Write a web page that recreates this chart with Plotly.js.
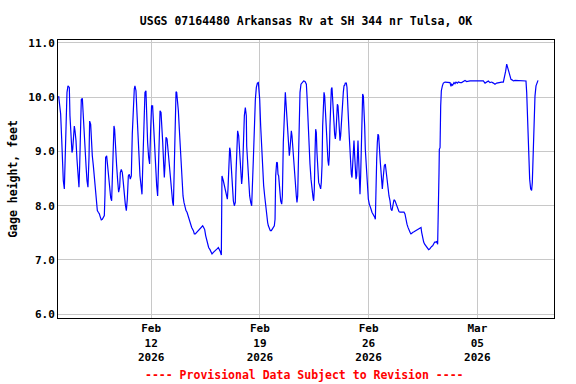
<!DOCTYPE html>
<html>
<head>
<meta charset="utf-8">
<script src="https://cdn.plot.ly/plotly-3.0.1.min.js"></script>
<style>html,body{margin:0;padding:0;background:#fff;}#chart{width:576px;height:384px;}</style>
</head>
<body>
<div id="chart"></div>
<script>
// Start of record and hours elapsed since it for each reading
const startTime = "2026-02-06T00:00:00Z";
const hoursSinceStart = [
1.0,4.1,5.7,6.7,8.2,9.8,11.3,12.4,13.9,15.4,17.5,18.5,20.1,21.6,22.7,23.7,25.2,26.3,27.8,29.3,
30.9,32.4,33.5,34.5,36.0,37.6,38.6,40.2,41.7,43.3,44.8,46.3,47.9,48.9,50.5,51.5,53.0,54.6,56.1,57.7,
59.2,60.8,62.3,63.9,65.4,66.9,68.5,70.0,71.6,72.6,73.6,75.2,76.7,78.3,79.8,81.4,82.9,84.5,85.5,86.5,
87.5,89.1,90.6,92.2,93.7,95.3,96.3,97.8,99.4,100.9,102.5,104.0,105.6,107.1,108.7,110.2,111.7,113.3,114.8,116.4,
117.9,118.9,120.5,122.0,123.6,125.1,126.7,128.2,129.8,131.3,132.9,134.4,135.9,137.0,138.5,140.1,141.6,143.2,144.6,146.2,
147.8,149.3,150.8,
152.5,154.0,156.1,157.7,159.2,160.7,161.8,163.3,164.3,165.4,166.9,168.5,169.5,171.0,172.6,174.1,175.7,177.2,178.3,179.3,
180.3,181.3,182.4,183.4,184.4,186.0,187.5,189.1,190.6,191.6,193.2,194.7,196.3,197.8,199.4,200.9,202.5,204.0,206.6,209.2,
210.7,212.2,214.3,215.8,217.9,220.0,222.0,223.6,225.1,226.7,228.2,229.8,231.3,232.8,234.9,236.4,238.0,240.1,242.1,244.2,
246.2,247.8,249.3,250.9,252.4,253.4,255.5,257.0,258.6,260.1,261.7,262.7,264.3,265.3,266.3,267.9,269.4,271.0,272.5,274.0,
275.1,276.6,277.6,279.2,280.7,282.3,283.8,284.9,286.4,288.0,289.5,291.0,
291.6,293.1,294.7,296.2,297.8,299.3,301.9,303.4,305.0,306.5,308.1,309.6,310.6,311.7,313.2,314.8,316.3,317.8,319.4,320.9,
322.0,323.0,324.0,325.1,326.6,328.1,329.7,331.2,332.8,334.3,335.4,336.4,337.9,339.0,340.0,341.0,342.6,344.1,345.7,346.7,
348.2,349.3,350.3,351.3,352.3,353.4,354.4,355.4,356.5,357.5,358.5,359.6,360.6,361.6,362.6,363.7,365.2,366.8,368.3,369.3,
370.4,371.4,372.4,374.0,375.5,377.6,379.6,381.7,383.8,384.8,386.3,387.9,389.4,391.0,392.5,394.1,395.1,396.1,397.2,398.2,
399.2,400.2,401.3,402.8,404.4,405.9,406.9,408.0,409.0,410.0,411.1,412.1,413.1,414.1,415.2,416.2,417.2,418.3,419.3,420.3,
421.4,422.4,423.4,424.4,425.5,426.5,427.5,428.6,429.6,430.6,431.7,432.7,433.7,434.7,435.8,436.8,437.8,438.9,439.9,440.9,
442.0,443.0,
444.0,445.6,446.6,447.6,448.7,450.2,451.3,452.3,453.3,454.3,455.4,456.4,457.4,458.5,459.5,460.5,461.6,462.6,463.6,464.6,
465.7,466.7,467.7,468.8,469.8,470.8,471.9,472.9,473.9,474.9,476.0,477.0,478.0,479.6,481.1,482.2,483.7,485.2,486.8,488.3,
489.4,490.4,491.4,492.5,493.5,494.5,495.5,496.6,498.1,499.7,501.2,502.8,504.3,505.8,506.9,508.4,510.0,511.5,513.1,514.6,
516.1,517.7,519.2,520.8,522.3,523.9,525.4,527.0,528.5,530.0,531.6,533.1,534.7,536.2,537.8,539.3,540.9,542.4,544.0,545.5,
547.0,548.6,550.1,551.7,553.2,554.8,556.3,557.9,559.4,561.0,562.0,563.5,565.1,566.6,568.2,569.7,571.2,572.8,574.3,575.9,
577.4,579.0,580.5,582.1,583.6,585.2,586.7,
587.3,588.3,588.8,589.3,590.4,591.4,592.4,594.0,595.5,598.1,600.7,603.2,605.8,607.3,608.4,609.9,612.0,613.5,615.1,617.1,
618.7,621.3,623.8,626.4,629.0,631.5,634.1,636.7,641.9,647.0,652.2,657.3,659.9,662.5,665.0,667.6,670.2,672.8,675.3,677.9,
680.5,683.1,685.6,688.2,689.2,690.3,691.8,693.4,694.9,696.4,697.5,698.5,700.0,701.6,703.7,706.2,708.8,714.0,719.1,723.2,
724.3,725.3,726.8,727.9,728.9,730.4,731.9,733.0,734.0,735.1,736.1,737.1,738.7,740.7,741.8
];
// Gage height, feet
const gageHeight = [
10.02,9.69,9.23,8.86,8.46,8.31,8.83,9.17,10.09,10.21,10.18,9.66,9.20,8.98,9.04,9.26,9.47,9.38,9.20,8.86,
8.58,8.34,8.74,9.56,9.96,9.98,9.72,9.41,9.04,8.74,8.46,8.34,8.89,9.56,9.50,9.17,8.92,8.74,8.52,8.25,
8.09,7.91,7.88,7.85,7.79,7.74,7.75,7.79,7.82,8.21,8.89,8.92,8.74,8.52,8.31,8.15,8.09,8.89,9.29,9.47,
9.41,8.95,8.74,8.46,8.25,8.34,8.61,8.67,8.61,8.43,8.18,8.03,7.91,8.12,8.55,8.58,8.49,8.55,9.32,9.90,
10.15,10.21,10.12,9.72,9.41,8.95,8.55,8.31,8.21,8.86,9.78,10.09,10.12,9.60,9.17,8.89,8.77,9.41,9.84,9.84,
9.44,8.98,8.67,
8.37,8.18,8.86,9.75,9.72,9.47,9.17,8.77,8.52,8.77,9.26,9.23,9.10,8.83,8.61,8.37,8.18,8.06,8.00,8.55,
9.10,9.81,10.10,10.09,9.99,9.75,9.41,9.01,8.74,8.43,8.18,8.06,7.97,7.91,7.88,7.82,7.72,7.69,7.60,7.54,
7.48,7.48,7.51,7.52,7.55,7.58,7.62,7.63,7.60,7.56,7.45,7.36,7.29,7.23,7.19,7.15,7.11,7.14,7.17,7.19,
7.21,7.23,7.20,7.15,7.09,8.55,8.46,8.37,8.28,8.15,8.12,8.31,8.71,9.07,9.01,8.61,8.31,8.09,8.00,8.06,
8.61,9.32,9.38,9.29,8.95,8.61,8.40,8.55,9.17,9.66,9.81,9.66,
9.10,8.74,8.46,8.18,8.06,8.00,8.86,9.47,9.96,10.18,10.26,10.27,10.15,9.96,9.47,9.01,8.58,8.37,8.18,7.97,
7.82,7.75,7.69,7.63,7.57,7.54,7.54,7.57,7.60,7.63,7.75,8.55,8.80,8.79,8.58,8.55,8.31,8.09,8.03,8.18,
9.17,9.66,10.09,10.09,9.90,9.66,9.47,9.35,9.13,8.92,9.04,9.35,9.38,9.29,9.10,8.89,8.67,8.43,8.18,8.06,
8.18,8.74,9.47,10.09,10.24,10.28,10.30,10.29,10.24,10.02,9.53,9.10,8.77,8.49,8.28,8.15,8.09,8.31,8.98,9.41,
9.35,8.98,8.64,8.43,8.37,8.31,8.43,8.74,9.47,9.90,10.09,10.02,9.72,9.47,9.35,9.10,8.83,8.74,8.92,9.47,
9.96,10.15,10.18,10.02,9.78,9.53,9.32,9.23,9.35,9.66,9.87,9.84,9.53,9.32,9.20,9.29,9.53,9.81,9.96,10.09,
10.21,10.22,
10.26,10.26,10.18,9.99,9.63,9.26,8.98,8.74,8.58,8.52,8.83,9.17,9.20,8.92,8.67,8.49,8.55,8.92,9.20,8.86,
8.37,8.21,8.55,9.17,9.84,10.06,10.02,9.81,9.47,9.04,8.80,8.55,8.37,8.12,8.03,7.97,7.94,7.88,7.85,7.82,
7.79,7.75,8.49,8.86,9.17,9.32,9.29,9.01,8.80,8.55,8.31,8.55,8.74,8.77,8.64,8.49,8.31,8.18,8.09,7.94,
7.91,8.03,8.11,8.09,8.03,7.97,7.91,7.89,7.88,7.88,7.89,7.88,7.88,7.85,7.72,7.66,7.60,7.54,7.51,7.48,
7.50,7.51,7.52,7.53,7.54,7.55,7.56,7.57,7.58,7.60,7.51,7.39,7.33,7.29,7.26,7.23,7.21,7.19,7.20,7.23,
7.25,7.26,7.29,7.33,7.33,7.34,7.29,
7.54,8.00,8.61,9.04,9.07,9.84,10.12,10.21,10.26,10.28,10.28,10.28,10.27,10.20,10.24,10.22,10.27,10.25,10.28,10.26,
10.28,10.27,10.27,10.29,10.31,10.29,10.30,10.30,10.30,10.30,10.30,10.30,10.26,10.28,10.30,10.27,10.28,10.26,10.24,10.26,
10.27,10.28,10.28,10.28,10.33,10.39,10.48,10.61,10.55,10.48,10.42,10.36,10.33,10.32,10.30,10.31,10.31,10.31,10.31,10.30,
10.09,9.66,9.23,8.80,8.49,8.31,8.28,8.43,8.86,9.29,9.72,10.02,10.21,10.30,10.31
];
const tickDates = ["2026-02-12", "2026-02-19", "2026-02-26", "2026-03-05"];
const tickLabels = ["Feb<br>12<br>2026", "Feb<br>19<br>2026", "Feb<br>26<br>2026", "Mar<br>05<br>2026"];
const yTicks = [6, 7, 8, 9, 10, 11];
const titleText = "USGS 07164480 Arkansas Rv at SH 344 nr Tulsa, OK";
const yTitle = "Gage height, feet";
const footnote = "---- Provisional Data Subject to Revision ----";

const t0 = Date.parse(startTime);
const times = hoursSinceStart.map(h => new Date(t0 + h * 3600000).toISOString().slice(0, 19).replace("T", " "));

const mono = "DejaVu Sans Mono, Liberation Mono, monospace";
const trace = {
  x: times, y: gageHeight, type: "scatter", mode: "lines",
  line: {color: "#0000ff", width: 1.2}, hoverinfo: "skip"
};
const layout = {
  width: 576, height: 384,
  margin: {l: 58, r: 22, t: 40, b: 66, pad: 0},
  paper_bgcolor: "#fff", plot_bgcolor: "#fff",
  showlegend: false,
  title: {text: titleText, font: {family: mono, size: 11.5, color: "#000", weight: "bold"},
          xref: "paper", x: 0.5, xanchor: "center", y: 0.945, yanchor: "middle"},
  xaxis: {
    type: "date", range: ["2026-02-06 00:00", "2026-03-09 22:30"],
    tickmode: "array", tickvals: tickDates, ticktext: tickLabels,
    showgrid: true, gridcolor: "#c8c8c8", gridwidth: 1,
    showline: true, linecolor: "#000", linewidth: 1, mirror: true,
    ticks: "", zeroline: false,
    tickfont: {family: mono, size: 11, color: "#000", weight: "bold"}
  },
  yaxis: {
    range: [5.93, 11.055], tickmode: "array", tickvals: yTicks,
    tickformat: ".1f",
    showgrid: true, gridcolor: "#c8c8c8", gridwidth: 1,
    showline: true, linecolor: "#000", linewidth: 1, mirror: true,
    ticks: "", zeroline: false,
    tickfont: {family: mono, size: 11, color: "#000", weight: "bold"},
    title: {text: yTitle, font: {family: mono, size: 11.5, color: "#000", weight: "bold"}, standoff: 8}
  },
  annotations: [{
    text: footnote, xref: "paper", yref: "paper", x: 0.497, y: -0.205,
    xanchor: "center", yanchor: "middle", showarrow: false,
    font: {family: mono, size: 11.5, color: "#ff0000", weight: "bold"}
  }]
};
Plotly.newPlot("chart", [trace], layout, {displayModeBar: false, staticPlot: true});
</script>
</body>
</html>
